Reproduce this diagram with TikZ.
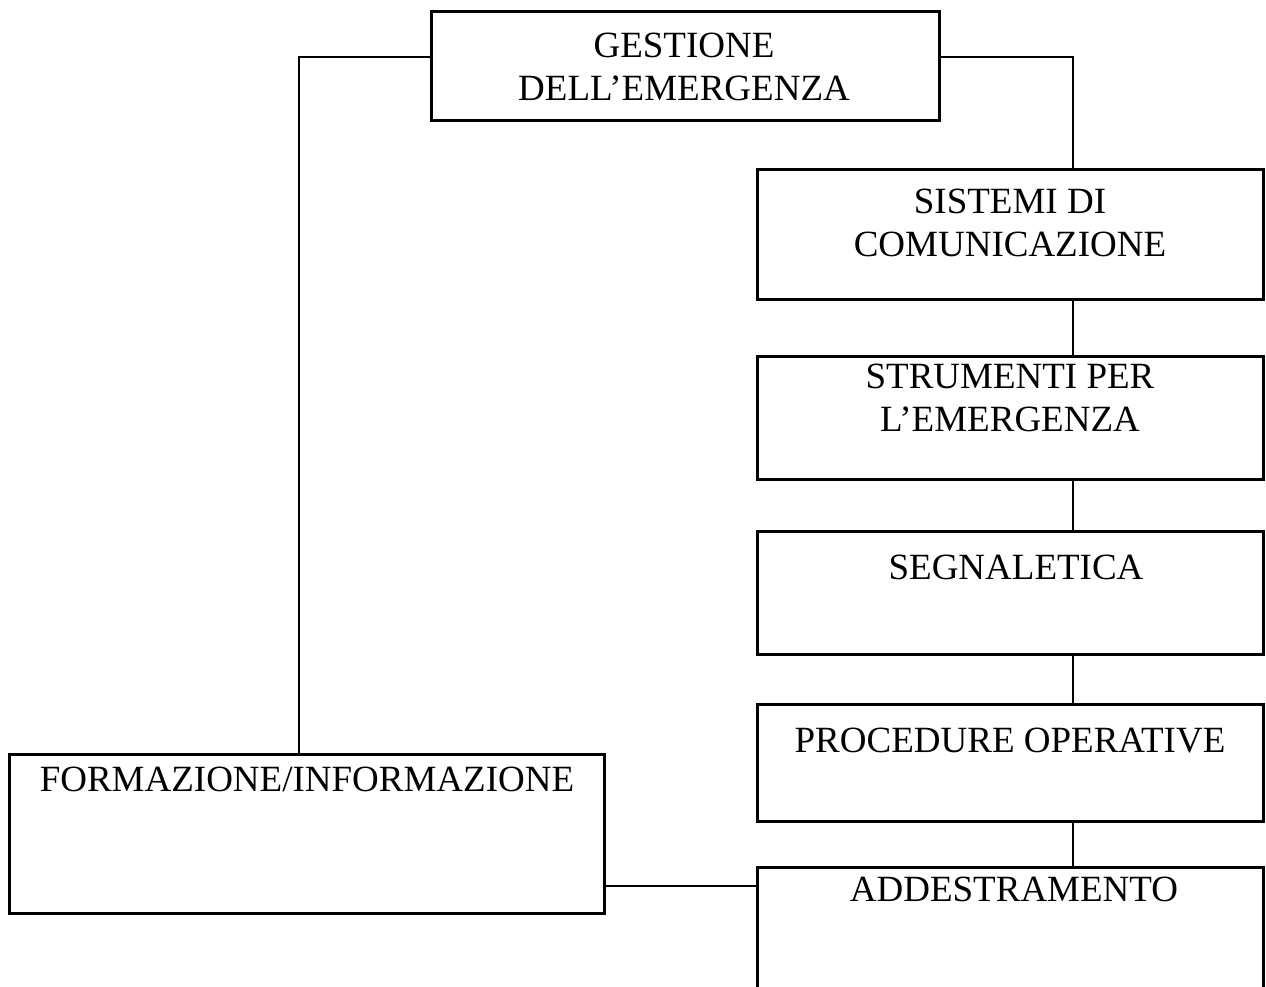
\documentclass[tikz,border=0pt]{standalone}
\usepackage{fontspec}
\setmainfont{Liberation Serif}
\begin{document}
\begin{tikzpicture}[x=1pt,y=-1pt,
  box/.style={draw=black,line width=3pt,rectangle,inner sep=0pt,anchor=north west},
  lbl/.style={inner sep=0pt,font=\fontsize{37}{43}\selectfont,align=center},
  conn/.style={draw=black,line width=2pt}]
\useasboundingbox (0,0) rectangle (1266,987);
% boxes
\node[box,minimum width=508pt,minimum height=109pt] (g) at (430,10) {};
\node[box,minimum width=506pt,minimum height=130pt] (s) at (756,168) {};
\node[box,minimum width=506pt,minimum height=123pt] (t) at (756,355) {};
\node[box,minimum width=506pt,minimum height=123pt] (n) at (756,530) {};
\node[box,minimum width=506pt,minimum height=117pt] (p) at (756,703) {};
\node[box,minimum width=506pt,minimum height=150pt] (a) at (756,866) {};
\node[box,minimum width=595pt,minimum height=159pt] (f) at (8,753) {};
% labels
\node[lbl,anchor=center] (gl) at (684,66.5) {GESTIONE\\DELL’EMERGENZA};
\node[lbl,anchor=center] (sl) at (1010,223) {SISTEMI DI\\COMUNICAZIONE};
\node[lbl,anchor=center] (tl) at (1010,398) {STRUMENTI PER\\L’EMERGENZA};
\node[lbl,anchor=base] (nl) at (1016,579) {SEGNALETICA};
\node[lbl,anchor=base] (pl) at (1010,752) {PROCEDURE OPERATIVE};
\node[lbl,anchor=base] (al) at (1014,901) {ADDESTRAMENTO};
\node[lbl,anchor=base] (fl) at (307,791) {FORMAZIONE/INFORMAZIONE};
% connectors
\draw[conn] ([yshift=8.5pt]g.west) -| ([xshift=-8.5pt]f.north);
\draw[conn] ([yshift=8.5pt]g.east) -| ([xshift=62pt]s.north);
\draw[conn] ([xshift=62pt]s.south) -- ([xshift=62pt]t.north);
\draw[conn] ([xshift=62pt]t.south) -- ([xshift=62pt]n.north);
\draw[conn] ([xshift=62pt]n.south) -- ([xshift=62pt]p.north);
\draw[conn] ([xshift=62pt]p.south) -- ([xshift=62pt]a.north);
\draw[conn] ([yshift=-51.5pt]f.east) -- ([yshift=-51.5pt]f.east -| a.west);
\end{tikzpicture}
\end{document}
